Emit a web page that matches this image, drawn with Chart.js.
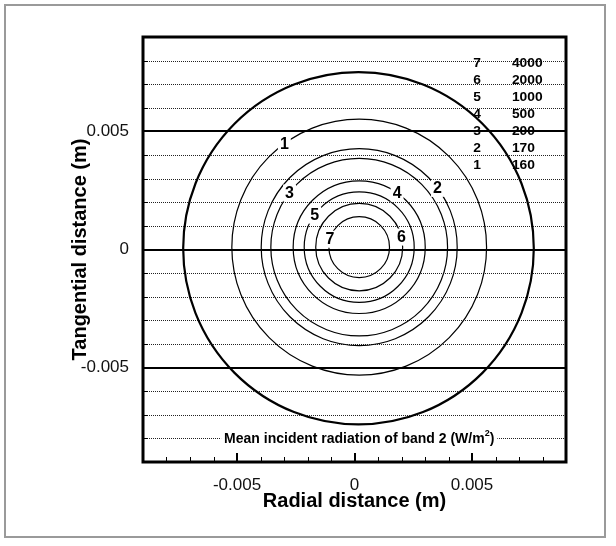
<!DOCTYPE html>
<html>
<head>
<meta charset="utf-8">
<script src="https://cdn.jsdelivr.net/npm/chart.js@4.4.0/dist/chart.umd.min.js"></script>
<style>
  html, body { margin: 0; padding: 0; background: #fff; }
  #wrap { width: 616px; height: 546px; }
</style>
</head>
<body>
<div id="wrap"><canvas id="contour-chart" width="616" height="546"></canvas></div>
<script>
// contour lines as numbered on the plot, with their levels (W/m2)
const contourIds = ['1', '2', '3', '4', '5', '6', '7'];
const contourLevels = [160, 170, 200, 500, 1000, 2000, 4000];
// radius of each contour (m)
const contourRadii = [0.00542, 0.00417, 0.00376, 0.00281, 0.00234, 0.00185, 0.00129];
const contourCenter = [0.0002, 0.0001];
// outer boundary of the domain
const domainRadius = 0.00746;
const domainCenter = [0.00017, 0.00005];

const axisMin = -0.009;
const axisMax = 0.009;
const majorTicks = [-0.005, 0, 0.005];
const majorTickLabels = ['-0.005', '0', '0.005'];
const minorTicks = [-0.008, -0.007, -0.006, -0.004, -0.003, -0.002, -0.001,
                    0.001, 0.002, 0.003, 0.004, 0.006, 0.007, 0.008];

// where the little numbers sit along each contour (degrees)
const labelAngles = [126, 37, 142, 55, 144, 14, 164];

const contourPlugin = {
    id: 'contours',

    beforeDatasetsDraw(chart) {
        const { ctx, chartArea: a, scales: { x, y } } = chart;
        ctx.save();
        // dotted lines every 0.001
        ctx.strokeStyle = '#222';
        ctx.lineWidth = 1;
        ctx.setLineDash([1, 1]);
        minorTicks.forEach(v => {
            const py = Math.round(y.getPixelForValue(v)) + 0.5;
            ctx.beginPath();
            ctx.moveTo(a.left, py);
            ctx.lineTo(a.right, py);
            ctx.stroke();
        });
        ctx.setLineDash([]);
        ctx.strokeStyle = '#000';
        ctx.lineWidth = 2;
        majorTicks.forEach(v => {
            const py = Math.round(y.getPixelForValue(v));
            ctx.beginPath();
            ctx.moveTo(a.left, py);
            ctx.lineTo(a.right, py);
            ctx.stroke();
        });
        ctx.restore();
    },

    afterDatasetsDraw(chart) {
        const { ctx, chartArea: a, scales: { x, y } } = chart;
        ctx.save();

        // domain boundary
        const dx = x.getPixelForValue(domainCenter[0]);
        const dy = y.getPixelForValue(domainCenter[1]);
        ctx.strokeStyle = '#000';
        ctx.lineWidth = 2.2;
        ctx.beginPath();
        ctx.ellipse(dx, dy,
            x.getPixelForValue(domainCenter[0] + domainRadius) - dx,
            dy - y.getPixelForValue(domainCenter[1] + domainRadius),
            0, 0, Math.PI * 2);
        ctx.stroke();

        // contours
        const cx = x.getPixelForValue(contourCenter[0]);
        const cy = y.getPixelForValue(contourCenter[1]);
        ctx.lineWidth = 1.2;
        const rads = contourRadii.map(r => [
            x.getPixelForValue(contourCenter[0] + r) - cx,
            cy - y.getPixelForValue(contourCenter[1] + r)
        ]);
        rads.forEach(([rx, ry]) => {
            ctx.beginPath();
            ctx.ellipse(cx, cy, rx, ry, 0, 0, Math.PI * 2);
            ctx.stroke();
        });

        // contour numbers
        ctx.font = 'bold 16px "Liberation Sans", Arial, sans-serif';
        ctx.textAlign = 'center';
        ctx.textBaseline = 'middle';
        contourIds.forEach((id, i) => {
            const t = labelAngles[i] * Math.PI / 180;
            const px = cx + rads[i][0] * Math.cos(t);
            const py = cy - rads[i][1] * Math.sin(t);
            const w = ctx.measureText(id).width;
            ctx.fillStyle = '#fff';
            ctx.fillRect(px - w / 2 - 2, py - 8, w + 4, 17);
            ctx.fillStyle = '#000';
            ctx.fillText(id, px, py + 1);
        });

        // level table, top right
        ctx.font = 'bold 12px "Liberation Sans", Arial, sans-serif';
        ctx.textAlign = 'left';
        for (let i = contourIds.length - 1, row = 0; i >= 0; i--, row++) {
            const py = y.getPixelForValue(0.00785 - row * 0.00072);
            ctx.save();
            ctx.translate(x.getPixelForValue(0.00505), py);
            ctx.scale(1.15, 1);
            ctx.fillText(contourIds[i], 0, 0);
            ctx.restore();
            ctx.save();
            ctx.translate(x.getPixelForValue(0.0067), py);
            ctx.scale(1.15, 1);
            ctx.fillText(String(contourLevels[i]), 0, 0);
            ctx.restore();
        }

        // caption
        const capX = x.getPixelForValue(0.0002);
        const capY = Math.round(y.getPixelForValue(-0.008));
        ctx.font = 'bold 14px "Liberation Sans", Arial, sans-serif';
        const main = 'Mean incident radiation of band 2 (W/m';
        const wMain = ctx.measureText(main).width;
        ctx.font = 'bold 9px "Liberation Sans", Arial, sans-serif';
        const wSup = ctx.measureText('2').width;
        ctx.font = 'bold 14px "Liberation Sans", Arial, sans-serif';
        const wEnd = ctx.measureText(')').width;
        const total = wMain + wSup + wEnd;
        const x0 = capX - total / 2;
        ctx.fillStyle = '#fff';
        ctx.fillRect(x0 - 3, capY - 9, total + 6, 18);
        ctx.fillStyle = '#000';
        ctx.textBaseline = 'middle';
        ctx.fillText(main, x0, capY + 1);
        ctx.font = 'bold 9px "Liberation Sans", Arial, sans-serif';
        ctx.fillText('2', x0 + wMain, capY - 4);
        ctx.font = 'bold 14px "Liberation Sans", Arial, sans-serif';
        ctx.fillText(')', x0 + wMain + wSup, capY + 1);

        // inner tick marks
        ctx.strokeStyle = '#000';
        ctx.lineWidth = 1;
        minorTicks.forEach(v => {
            const px = Math.round(x.getPixelForValue(v)) + 0.5;
            ctx.beginPath();
            ctx.moveTo(px, a.bottom);
            ctx.lineTo(px, a.bottom - 5);
            ctx.stroke();
            const py = Math.round(y.getPixelForValue(v)) + 0.5;
            ctx.beginPath();
            ctx.moveTo(a.left, py);
            ctx.lineTo(a.left + 5, py);
            ctx.stroke();
        });
        ctx.lineWidth = 2;
        majorTicks.forEach(v => {
            const px = Math.round(x.getPixelForValue(v));
            ctx.beginPath();
            ctx.moveTo(px, a.bottom);
            ctx.lineTo(px, a.bottom - 9);
            ctx.stroke();
        });

        // frame
        ctx.lineWidth = 3;
        ctx.strokeRect(a.left, a.top, a.right - a.left, a.bottom - a.top);

        // outer grey border
        ctx.strokeStyle = '#9a9a9a';
        ctx.lineWidth = 2;
        ctx.strokeRect(5, 5, 600, 532);
        ctx.restore();
    }
};

const setMajorTicks = scale => {
    scale.ticks = majorTicks.map(v => ({ value: v }));
};

new Chart(document.getElementById('contour-chart'), {
    type: 'scatter',
    data: { datasets: [] },
    options: {
        responsive: false,
        animation: false,
        layout: { padding: { top: 37, right: 50, left: 0, bottom: 0 } },
        plugins: { legend: { display: false }, tooltip: { enabled: false } },
        scales: {
            x: {
                min: axisMin,
                max: axisMax,
                afterBuildTicks: setMajorTicks,
                afterFit: s => { s.height = 84; },
                grid: { display: false, drawTicks: false },
                border: { display: false },
                ticks: {
                    padding: 13,
                    color: '#111',
                    font: { family: '"Liberation Sans", Arial, sans-serif', size: 17 },
                    callback: v => majorTickLabels[majorTicks.indexOf(v)]
                },
                title: {
                    display: true,
                    text: 'Radial distance (m)',
                    color: '#000',
                    padding: { top: 0, bottom: 33 },
                    font: { family: '"Liberation Sans", Arial, sans-serif', size: 20, weight: 'bold' }
                }
            },
            y: {
                min: axisMin,
                max: axisMax,
                afterBuildTicks: setMajorTicks,
                afterFit: s => { s.width = 143; },
                grid: { display: false, drawTicks: false },
                border: { display: false },
                ticks: {
                    padding: 14,
                    color: '#111',
                    font: { family: '"Liberation Sans", Arial, sans-serif', size: 17 },
                    callback: v => majorTickLabels[majorTicks.indexOf(v)]
                },
                title: {
                    display: true,
                    text: 'Tangential distance (m)',
                    color: '#000',
                    padding: { top: 68, bottom: 0 },
                    font: { family: '"Liberation Sans", Arial, sans-serif', size: 20, weight: 'bold' }
                }
            }
        }
    },
    plugins: [contourPlugin]
});
</script>
</body>
</html>
